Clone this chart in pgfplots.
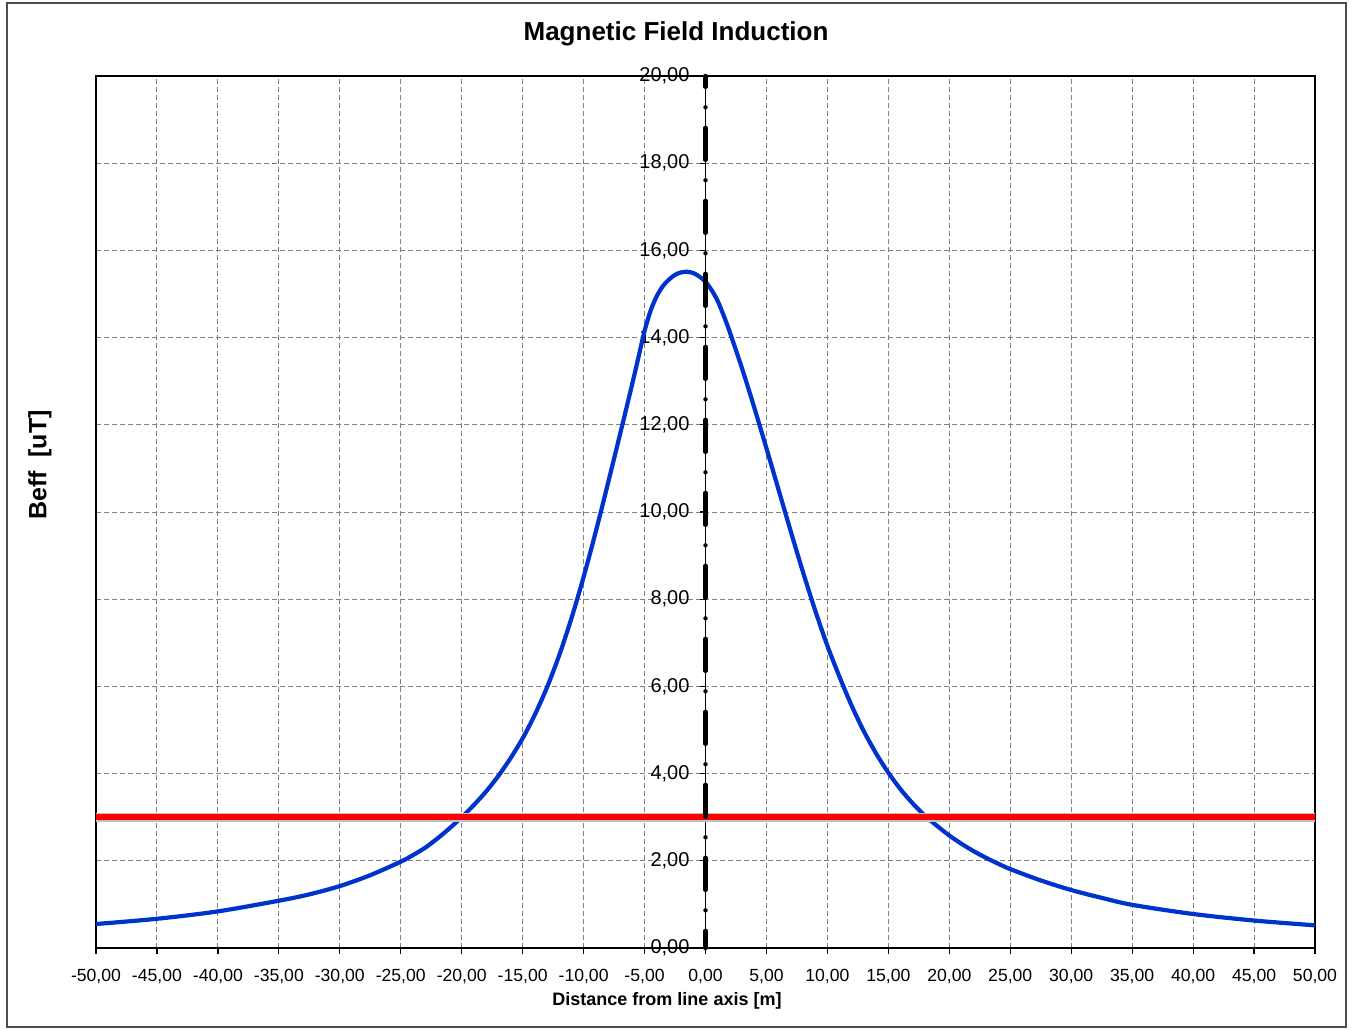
\documentclass[border=0pt]{standalone}
\usepackage{fontspec}
\setmainfont{Liberation Sans}
\usepackage{pgfplots}
\pgfplotsset{compat=1.18}
\definecolor{curveblue}{RGB}{0,51,204}
\definecolor{gridgray}{RGB}{128,128,128}
\begin{document}
\begin{tikzpicture}
\path (-48pt,-40.5pt) rectangle (629pt,474pt);
\draw[black!70, line width=0.75pt] (-44.5pt,-39.5pt) rectangle (625pt,472.5pt);
\begin{axis}[
  scale only axis, width=609.5pt, height=436pt,
  xmin=-50, xmax=50, ymin=0, ymax=20,
  axis x line=bottom, axis y line=center,
  axis line style={-, line width=0.6pt},
  hide obscured x ticks=false, hide obscured y ticks=false,
  xtick={-50,-45,...,50}, ytick={0,2,...,20},
  grid=major,
  major grid style={gridgray, line width=0.5pt, dash pattern=on 2.5pt off 1.5pt},
  tick style={black, line width=0.6pt},
  tick align=outside, major tick length=3pt,
  xticklabel style={font=\fontsize{8.8}{10}\selectfont, yshift=-4pt},
  yticklabel style={font=\fontsize{10}{12}\selectfont, xshift=-1.5pt},
  /pgf/number format/fixed, /pgf/number format/fixed zerofill,
  /pgf/number format/precision=2, /pgf/number format/use comma,
  /pgf/number format/assume math mode=true,
  clip=false,
]
\draw[line width=0.6pt] (rel axis cs:0,0) -- (rel axis cs:0,1) -- (rel axis cs:1,1) -- (rel axis cs:1,0);
% Beff along the profile
\addplot[curveblue, line width=2.1pt, smooth] coordinates {
(-50,0.55) (-45,0.67) (-40,0.84) (-35,1.085) (-32.5,1.23) (-30,1.42)
(-27.5,1.67) (-25,1.98) (-24,2.13) (-23,2.30) (-22,2.51) (-21,2.745)
(-20,3.00) (-19,3.28) (-18,3.59)
(-17,3.945) (-16,4.35) (-15,4.81) (-14,5.35) (-13,5.98) (-12,6.715)
(-11,7.56) (-10,8.51) (-9,9.55) (-8,10.66) (-7,11.795) (-6,12.95)
(-5.5,13.55) (-5,14.15) (-4.5,14.62) (-4,14.95) (-3.5,15.18) (-3,15.33)
(-2.5,15.44) (-2,15.495) (-1.5,15.51) (-1,15.48) (-0.5,15.40) (0,15.28)
(0.5,15.09) (1,14.84) (1.5,14.5) (2,14.12) (3,13.29) (4,12.395)
(5,11.46) (6,10.505) (7,9.55) (8,8.62) (9,7.74) (10,6.93)
(11,6.215) (12,5.55) (13,4.965) (14,4.46) (15,4.02) (16,3.64)
(17,3.315) (18,3.035) (19,2.80) (20,2.58) (21,2.39) (22,2.22)
(23,2.07) (24,1.935) (25,1.81) (27.5,1.55) (30,1.33) (32.5,1.15)
(35,0.99) (40,0.78) (45,0.63) (50,0.52)
};
\addplot[black!25, line width=4.5pt] coordinates {(-50,3) (50,3)};
\addplot[red, line width=2.8pt] coordinates {(-50,3) (50,3)};
\addplot[black, line width=2.2pt, line cap=round,
  dash pattern=on 16pt off 10.25pt on 0pt off 10.25pt, dash phase=10.6pt]
  coordinates {(0,20) (0,0)};
\end{axis}
\node[font=\bfseries\fontsize{13}{15}\selectfont] at (290pt,457pt) {Magnetic Field Induction};
\node[font=\bfseries\fontsize{9}{11}\selectfont] at (285.5pt,-26.5pt) {Distance from line axis [m]};
\node[font=\bfseries\fontsize{12.5}{15}\selectfont, rotate=90] at (-28pt,241.5pt) {Beff\ \ [uT]};
\end{tikzpicture}
\end{document}
